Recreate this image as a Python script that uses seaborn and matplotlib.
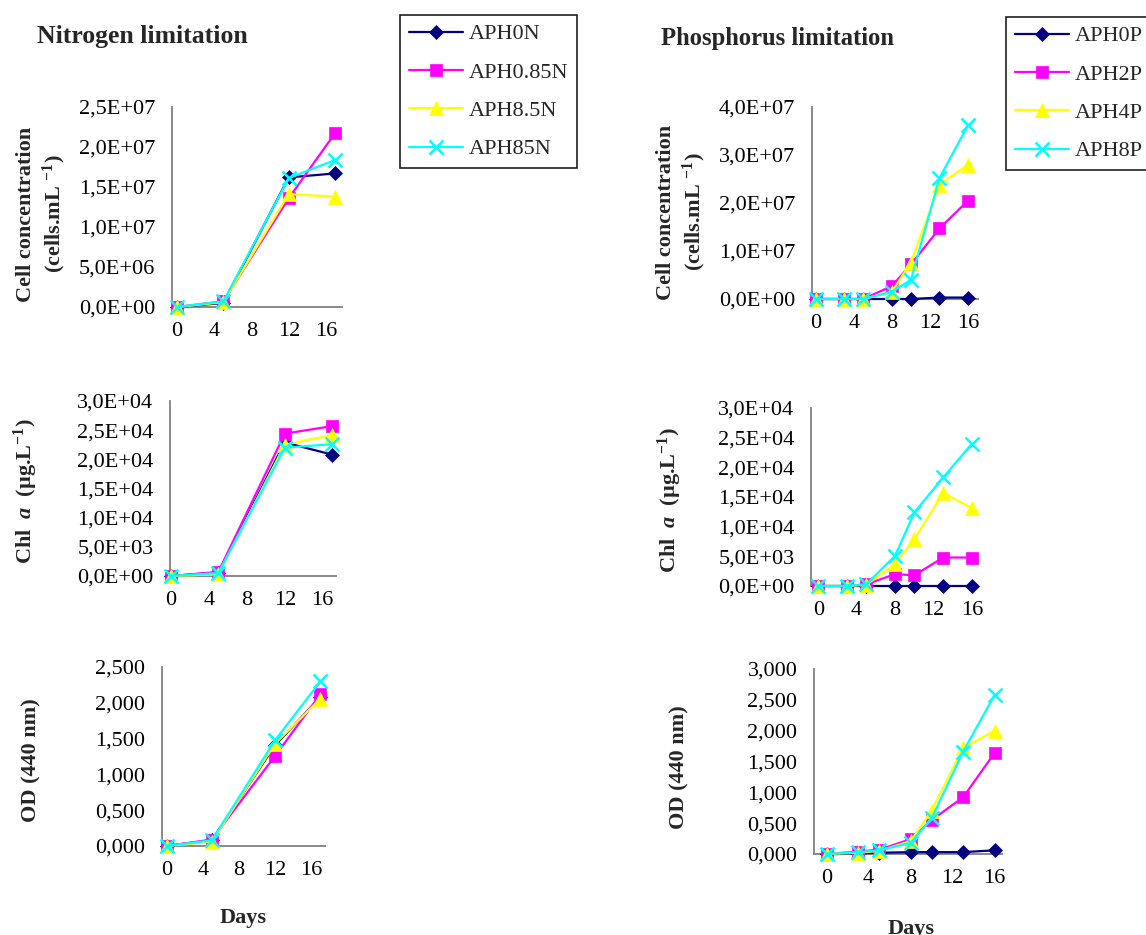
import matplotlib
matplotlib.use("Agg")
import matplotlib.pyplot as plt
import numpy as np
import pandas as pd
import seaborn as sns
from matplotlib.ticker import FuncFormatter, MultipleLocator

# ---------------- data ----------------
n_days = [0, 5, 12, 17]
p_days = [0, 3, 5, 8, 10, 13, 16]

n_series = ["APH0N", "APH0.85N", "APH8.5N", "APH85N"]
p_series = ["APH0P", "APH2P", "APH4P", "APH8P"]

# Nitrogen limitation
n_cells_0 = [0, 5e5, 1.62e7, 1.67e7]
n_cells_085 = [0, 7e5, 1.36e7, 2.18e7]
n_cells_85a = [0, 6e5, 1.41e7, 1.38e7]
n_cells_85 = [0, 7e5, 1.61e7, 1.84e7]

n_chl_0 = [0, 600, 2.29e4, 2.08e4]
n_chl_085 = [0, 700, 2.44e4, 2.57e4]
n_chl_85a = [0, 300, 2.25e4, 2.42e4]
n_chl_85 = [0, 500, 2.20e4, 2.26e4]

n_od_0 = [0, 0.08, 1.41, 2.08]
n_od_085 = [0, 0.09, 1.26, 2.12]
n_od_85a = [0, 0.06, 1.43, 2.06]
n_od_85 = [0, 0.08, 1.48, 2.30]

# Phosphorus limitation
p_cells_0 = [0, 0, 0, 0, 0, 3e5, 3e5]
p_cells_2 = [0, 0, 0, 2.7e6, 7.2e6, 1.47e7, 2.05e7]
p_cells_4 = [0, 0, 0, 1.5e6, 7.6e6, 2.38e7, 2.80e7]
p_cells_8 = [0, 0, 0, 1.5e6, 4.0e6, 2.52e7, 3.62e7]

p_chl_0 = [0, 0, 0, 0, 0, 0, 0]
p_chl_2 = [0, 0, 300, 2000, 1800, 4800, 4800]
p_chl_4 = [0, 0, 200, 3700, 7900, 1.57e4, 1.31e4]
p_chl_8 = [0, 0, 300, 5100, 1.24e4, 1.83e4, 2.40e4]

p_od_0 = [0, 0.01, 0.02, 0.03, 0.03, 0.03, 0.06]
p_od_2 = [0, 0.04, 0.07, 0.24, 0.55, 0.92, 1.64]
p_od_4 = [0, 0.02, 0.05, 0.21, 0.70, 1.72, 2.00]
p_od_8 = [0, 0.03, 0.06, 0.18, 0.58, 1.66, 2.58]

x_ticks = [0, 4, 8, 12, 16]

# ---------------- style ----------------
sns.set_theme(style="white")
plt.rcParams["font.family"] = ["Liberation Serif", "DejaVu Serif"]
plt.rcParams["mathtext.fontset"] = "custom"
plt.rcParams["mathtext.rm"] = "Liberation Serif"
plt.rcParams["mathtext.it"] = "Liberation Serif:italic"
plt.rcParams["mathtext.bf"] = "Liberation Serif:bold"
plt.rcParams["mathtext.bfit"] = "Liberation Serif:italic:bold"

colors = ["#000080", "#FF00FF", "#FFFF00", "#00FFFF"]
markers = ["D", "s", "^", "x"]
msizes = [7.5, 8, 9.5, 10]

W, H = 1146, 935
fig = plt.figure(figsize=(W / 100, H / 100), dpi=100)


def px_axes(x0, x1, y0, y1):
    return fig.add_axes([x0 / W, 1 - y1 / H, (x1 - x0) / W, (y1 - y0) / H])


sci_fmt = FuncFormatter(lambda v, p: f"{v:.1E}".replace(".", ","))
od_fmt = FuncFormatter(lambda v, p: f"{v:.3f}".replace(".", ","))


def panel(ax, days, names, values, ymax, ystep, fmt, xlim):
    df = pd.DataFrame({
        "day": np.tile(days, len(names)),
        "value": np.concatenate(values),
        "series": np.repeat(names, len(days)),
    })
    for i, name in enumerate(names):
        sub = df[df["series"] == name]
        sns.lineplot(data=sub, x="day", y="value", ax=ax, color=colors[i],
                     marker=markers[i], markersize=msizes[i],
                     markeredgecolor=colors[i], markerfacecolor=colors[i],
                     markeredgewidth=1.8 if markers[i] == "x" else 0.5,
                     linewidth=1.6, clip_on=False, label=name, legend=False,
                     zorder=3 + i)
    ax.set_xlim(*xlim)
    ax.set_ylim(0, ymax)
    ax.set_xticks(x_ticks)
    ax.yaxis.set_major_locator(MultipleLocator(ystep))
    ax.yaxis.set_major_formatter(fmt)
    ax.set_xlabel("")
    ax.set_ylabel("")
    for s in ["top", "right"]:
        ax.spines[s].set_visible(False)
    for s in ["left", "bottom"]:
        ax.spines[s].set_color("#808080")
        ax.spines[s].set_linewidth(1.3)
    ax.tick_params(axis="both", direction="out", length=5, width=1.2,
                   color="#808080", labelsize=16, labelcolor="black", pad=6)
    ax.tick_params(axis="y", pad=7)
    ax.patch.set_alpha(0)


# Nitrogen column
ax_tl = px_axes(172, 342, 107, 307)
panel(ax_tl, n_days, n_series, [n_cells_0, n_cells_085, n_cells_85a, n_cells_85],
      2.5e7, 5e6, sci_fmt, (-0.5, 17.7))
ax_ml = px_axes(170, 336, 401, 576)
panel(ax_ml, n_days, n_series, [n_chl_0, n_chl_085, n_chl_85a, n_chl_85],
      3e4, 5e3, sci_fmt, (-0.1, 17.4))
ax_bl = px_axes(162, 325, 667, 846)
panel(ax_bl, n_days, n_series, [n_od_0, n_od_085, n_od_85a, n_od_85],
      2.5, 0.5, od_fmt, (-0.5, 17.5))

# Phosphorus column
ax_tr = px_axes(812, 978, 107, 299)
panel(ax_tr, p_days, p_series, [p_cells_0, p_cells_2, p_cells_4, p_cells_8],
      4e7, 1e7, sci_fmt, (-0.4, 17.05))
ax_mr = px_axes(811, 973, 408, 586)
panel(ax_mr, p_days, p_series, [p_chl_0, p_chl_2, p_chl_4, p_chl_8],
      3e4, 5e3, sci_fmt, (-0.75, 16.1))
ax_br = px_axes(814, 1002, 669, 854)
panel(ax_br, p_days, p_series, [p_od_0, p_od_2, p_od_4, p_od_8],
      3.0, 0.5, od_fmt, (-1.2, 16.7))

# ---------------- texts ----------------
bold = dict(fontsize=16, fontweight="bold", rotation=90, ha="center", va="center")
cell_label = "Cell concentration\n(cells.mL $^{\\mathbf{-1}}$)"
chl_label = "Chl  $\\mathbfit{a}$  (µg.L$^{\\mathbf{-1}}$)"
od_label = "OD (440 nm)"

fig.text(42 / W, 1 - 214 / H, cell_label, linespacing=1.25, **bold)
fig.text(26 / W, 1 - 491 / H, chl_label, **bold)
fig.text(31 / W, 1 - 760 / H, od_label, **bold)
fig.text(682 / W, 1 - 212 / H, cell_label, linespacing=1.25, **bold)
fig.text(670 / W, 1 - 500 / H, chl_label, **bold)
fig.text(679 / W, 1 - 767 / H, od_label, **bold)

fig.text(243 / W, 1 - 918 / H, "Days", fontsize=16, fontweight="bold",
         ha="center", va="center")
fig.text(911 / W, 1 - 929 / H, "Days", fontsize=16, fontweight="bold",
         ha="center", va="center")

fig.text(37 / W, 1 - 37 / H, "Nitrogen limitation", fontsize=18.5,
         fontweight="bold", ha="left", va="center")
fig.text(661 / W, 1 - 39 / H, "Phosphorus limitation", fontsize=17.7,
         fontweight="bold", ha="left", va="center")

# ---------------- legends ----------------
leg_kw = dict(loc="upper left", frameon=True, fancybox=False, fontsize=16,
              handlelength=2.45, handletextpad=0.25, labelspacing=0.8,
              borderpad=0.4, borderaxespad=0, framealpha=1, numpoints=1)
h, l = ax_tl.get_legend_handles_labels()
lg1 = fig.legend(h, l, bbox_to_anchor=(400 / W, 1 - 15 / H), **leg_kw)
h, l = ax_tr.get_legend_handles_labels()
lg2 = fig.legend(h, l, bbox_to_anchor=(1006 / W, 1 - 17 / H), **leg_kw)
for lg in (lg1, lg2):
    lg.get_frame().set_edgecolor("#202020")
    lg.get_frame().set_linewidth(1.2)
    lg.get_frame().set_boxstyle("square", pad=0)

fig.savefig("out.png", dpi=100)
